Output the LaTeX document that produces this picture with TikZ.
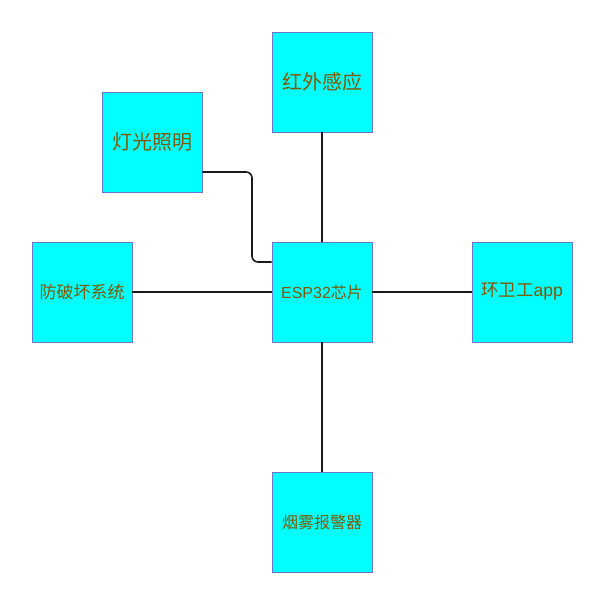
\documentclass[tikz,border=0pt]{standalone}
\usepackage{fontspec}
\newfontfamily\cjk{Noto Sans CJK SC}
\newfontfamily\lat{Liberation Sans}
\definecolor{boxfill}{RGB}{0,255,255}
\definecolor{boxline}{RGB}{102,119,204}
\definecolor{txt}{RGB}{128,88,0}
\begin{document}
\begin{tikzpicture}[x=1pt,y=-1pt,
  blk/.style={draw=boxline, fill=boxfill, line width=0.8pt, minimum width=100pt, minimum height=100pt, inner sep=0pt, text=txt, font=\cjk},
  wire/.style={line width=1.6pt, black!90}]
\useasboundingbox (0,0) rectangle (589,589);
\node[blk, font=\cjk\fontsize{20}{22}\selectfont] (ir) at (322,82) {红外感应};
\node[blk, font=\cjk\fontsize{20}{22}\selectfont] (light) at (152,142) {灯光照明};
\node[blk, font=\cjk\fontsize{17}{20}\selectfont] (anti) at (82,292) {防破坏系统};
\node[blk, font=\cjk\fontsize{16}{20}\selectfont] (esp) at (322,292) {{\lat ESP32}芯片};
\node[blk, font=\cjk\fontsize{17.5}{20}\selectfont] (app) at (522,292) {环卫工{\lat app}};
\node[blk, font=\cjk\fontsize{16}{20}\selectfont] (smoke) at (322,522) {烟雾报警器};
\draw[wire] (ir.south) -- (esp.north);
\draw[wire] (esp.south) -- (smoke.north);
\draw[wire] (anti.east) -- (esp.west);
\draw[wire] (esp.east) -- (app.west);
\draw[wire, rounded corners=6pt] (light.east |- 0,172) -- (252,172) -- (252,262) -- (esp.west |- 0,262);
\end{tikzpicture}
\end{document}
